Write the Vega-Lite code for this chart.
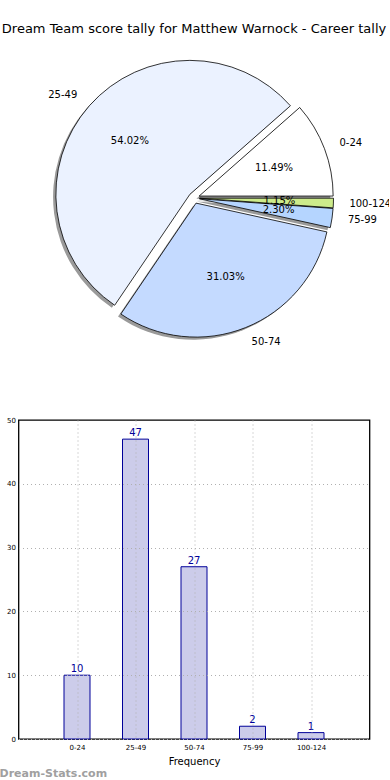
{
  "$schema": "https://vega.github.io/schema/vega-lite/v6.json",
  "padding": {"left": -2, "top": 23, "right": 0, "bottom": 0},
  "bounds": "flush",
  "center": true,
  "spacing": 72,
  "config": {"font": "DejaVu Sans", "view": {"stroke": null}},
  "data": {
    "values": [
      {"bin": "0-24", "count": 10, "i": 1, "pct": "11.49%"},
      {"bin": "25-49", "count": 47, "i": 2, "pct": "54.02%"},
      {"bin": "50-74", "count": 27, "i": 3, "pct": "31.03%"},
      {"bin": "75-99", "count": 2, "i": 4, "pct": "2.30%"},
      {"bin": "100-124", "count": 1, "i": 5, "pct": "1.15%"}
    ]
  },
  "vconcat": [
    {
      "width": 390,
      "height": 300,
      "title": {"text": "Dream Team score tally for Matthew Warnock - Career tally", "fontSize": 13, "fontWeight": "normal", "anchor": "middle", "offset": 12, "color": "#000000", "font": "DejaVu Sans"},
      "transform": [{"joinaggregate": [{"op": "sum", "field": "count", "as": "total"}]}],
      "encoding": {
        "theta": {"field": "count", "type": "quantitative", "stack": true, "scale": {"range": [1.5707963, -4.712389]}},
        "order": {"field": "i", "type": "quantitative"}
      },
      "layer": [
        {
          "mark": {"type": "arc", "outerRadius": 134, "fill": "#9a9a9a", "stroke": null,
            "xOffset": {"expr": "5.5*sin(PI/2 - PI*(datum.count_start+datum.count_end)/datum.total) - 2.8"},
            "yOffset": {"expr": "-5.5*cos(PI/2 - PI*(datum.count_start+datum.count_end)/datum.total) + 2.6"}}
        },
        {
          "mark": {"type": "arc", "outerRadius": 134, "stroke": "#000000", "strokeWidth": 0.8,
            "xOffset": {"expr": "5.5*sin(PI/2 - PI*(datum.count_start+datum.count_end)/datum.total)"},
            "yOffset": {"expr": "-5.5*cos(PI/2 - PI*(datum.count_start+datum.count_end)/datum.total)"}},
          "encoding": {
            "color": {"field": "bin", "type": "nominal", "legend": null,
              "scale": {"domain": ["0-24", "25-49", "50-74", "75-99", "100-124"], "range": ["#ffffff", "#ebf2ff", "#c4daff", "#b5d5ff", "#cdeb8b"]}}
          }
        },
        {
          "mark": {"type": "text", "radius": 80, "fontSize": 10, "color": "#000000", "align": "center", "baseline": "middle",
            "xOffset": {"expr": "5.5*sin(PI/2 - PI*(datum.count_start+datum.count_end)/datum.total)"},
            "yOffset": {"expr": "-5.5*cos(PI/2 - PI*(datum.count_start+datum.count_end)/datum.total)"}},
          "encoding": {"text": {"field": "pct"}}
        },
        {
          "mark": {"type": "text", "radius": 150, "fontSize": 10, "color": "#000000", "baseline": "middle", "clip": true,
            "align": {"expr": "sin(PI/2 - PI*(datum.count_start+datum.count_end)/datum.total) >= 0 ? 'left' : 'right'"},
            "xOffset": {"expr": "5.5*sin(PI/2 - PI*(datum.count_start+datum.count_end)/datum.total)"},
            "yOffset": {"expr": "-5.5*cos(PI/2 - PI*(datum.count_start+datum.count_end)/datum.total)"}},
          "encoding": {"text": {"field": "bin"}}
        }
      ]
    },
    {
      "width": 351,
      "height": 319,
      "view": {"stroke": "#000000", "strokeWidth": 1.3},
      "title": {"text": "Dream-Stats.com", "orient": "bottom", "anchor": "start", "frame": "group", "dx": -19, "offset": 2, "fontSize": 11, "fontWeight": "bold", "color": "#a0a0a0", "font": "DejaVu Sans"},
      "encoding": {
        "x": {"field": "bin", "type": "nominal", "sort": null, "scale": {"type": "point", "padding": 1},
          "axis": {"title": "Frequency", "titleFontSize": 10, "titleFontWeight": "normal", "titleColor": "#000000", "titlePadding": 6,
            "labelFontSize": 7, "labelAngle": 0, "labelColor": "#000000", "labelPadding": 4, "ticks": false, "domain": false,
            "grid": true, "gridDash": [1, 3], "gridColor": "#b0b0b0", "zindex": 1}},
        "y": {"field": "count", "type": "quantitative", "scale": {"domain": [0, 50], "nice": false},
          "axis": {"values": [0, 10, 20, 30, 40, 50], "title": null, "labelFontSize": 7, "labelColor": "#000000", "labelPadding": 3,
            "ticks": false, "domain": false, "gridDash": [1, 3], "gridColor": "#b0b0b0", "zindex": 1,
            "gridOpacity": {"condition": {"test": "datum.value == 50", "value": 0}, "value": 1}}}
      },
      "layer": [
        {"mark": {"type": "bar", "width": 26, "fill": "#ccccea", "stroke": "#000099", "strokeWidth": 1}},
        {"mark": {"type": "text", "dy": -6, "fontSize": 10, "color": "#000099", "baseline": "middle"}, "encoding": {"text": {"field": "count"}}}
      ]
    }
  ]
}
